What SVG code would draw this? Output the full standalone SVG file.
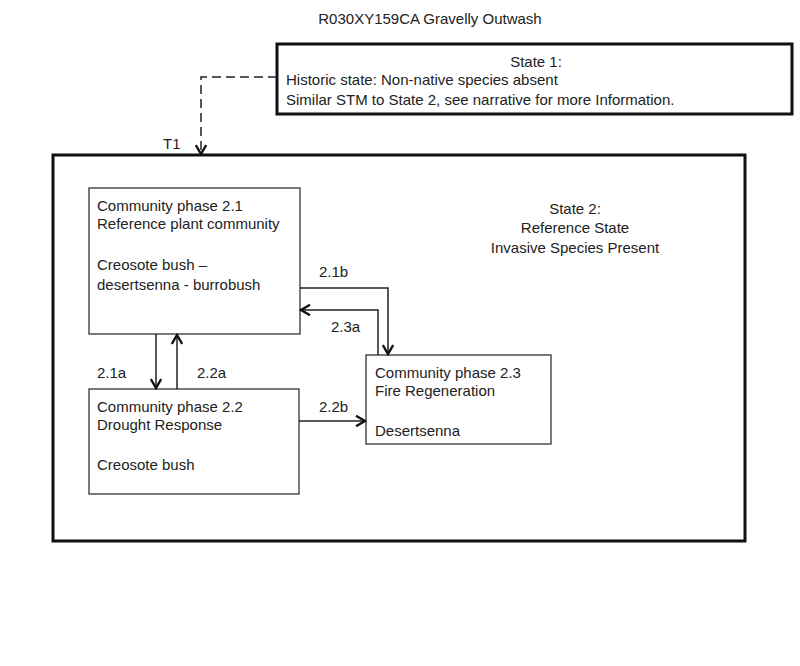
<svg xmlns="http://www.w3.org/2000/svg" width="800" height="666" viewBox="0 0 800 666">
<defs>
<style>
text{font-family:"Liberation Sans",Arial,sans-serif;font-size:15px;fill:#222}
.b{fill:#fff;stroke:#333;stroke-width:1.3}
.s{fill:none;stroke:#111;stroke-width:3}
.c{fill:none;stroke:#222;stroke-width:1.5}
</style>
<marker id="a" viewBox="0 0 12 12" refX="10" refY="6" markerWidth="12" markerHeight="12" markerUnits="userSpaceOnUse" orient="auto"><path d="M1,0.8 L10,6 L1,11.2" fill="none" stroke="#111" stroke-width="2.4"/></marker>
</defs>
<rect width="800" height="666" fill="#fff"/>
<text x="430" y="24" text-anchor="middle">R030XY159CA Gravelly Outwash</text>
<g id="state1"><rect class="s" x="277" y="44" width="515" height="70"/>
<text x="536" y="67" text-anchor="middle">State 1:</text>
<text x="286" y="85">Historic state: Non-native species absent</text>
<text x="286" y="105">Similar STM to State 2, see narrative for more Information.</text></g>
<g id="state2"><rect class="s" x="53" y="155" width="692" height="386"/>
<text x="575" y="214" text-anchor="middle">State 2:</text>
<text x="575" y="233" text-anchor="middle">Reference State</text>
<text x="575" y="253" text-anchor="middle">Invasive Species Present</text></g>
<g id="p21"><rect class="b" x="89" y="188" width="211" height="146"/>
<text x="97" y="211">Community phase 2.1</text><text x="97" y="229">Reference plant community</text>
<text x="97" y="270">Creosote bush –</text><text x="97" y="290">desertsenna - burrobush</text></g>
<g id="p22"><rect class="b" x="89" y="389" width="210" height="105"/>
<text x="97" y="412">Community phase 2.2</text><text x="97" y="430">Drought Response</text>
<text x="97" y="470">Creosote bush</text></g>
<g id="p23"><rect class="b" x="366" y="355" width="185" height="89"/>
<text x="375" y="378">Community phase 2.3</text><text x="375" y="396">Fire Regeneration</text>
<text x="375" y="436">Desertsenna</text></g>
<g id="connectors">
<path class="c" d="M277,77 H201 V154" stroke-dasharray="9,5" marker-end="url(#a)"/>
<path class="c" d="M156,334 V388" marker-end="url(#a)"/>
<path class="c" d="M177,389 V335" marker-end="url(#a)"/>
<path class="c" d="M300,288 H388 V354" marker-end="url(#a)"/>
<path class="c" d="M378,355 V310 H301" marker-end="url(#a)"/>
<path class="c" d="M299,421 H365" marker-end="url(#a)"/>
</g>
<text x="163" y="149">T1</text>
<text x="97" y="378">2.1a</text>
<text x="197" y="378">2.2a</text>
<text x="319" y="277">2.1b</text>
<text x="331" y="332">2.3a</text>
<text x="319" y="412">2.2b</text>
</svg>
